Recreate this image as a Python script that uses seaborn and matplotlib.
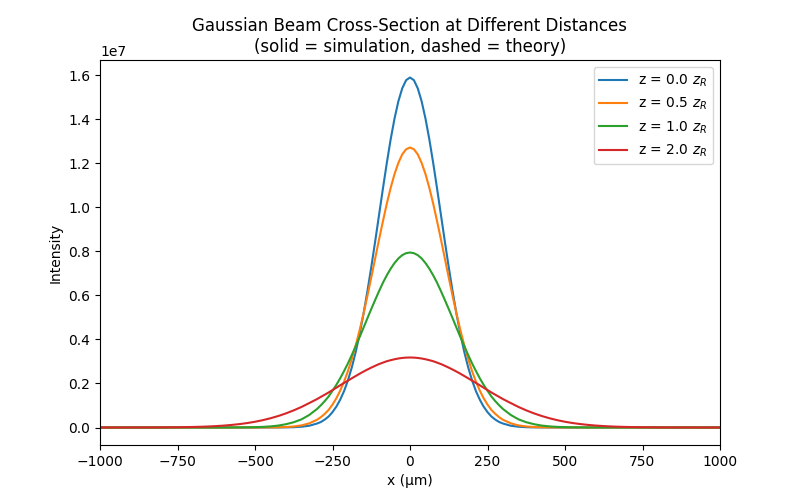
import numpy as np
import pandas as pd
import matplotlib
matplotlib.use("Agg")
import matplotlib.pyplot as plt
import seaborn as sns

# transverse position (um)
x_um = [-1000, -975, -950, -925, -900, -875, -850, -825, -800, -775, -750, -725,
        -700, -675, -650, -625, -600, -575, -550, -525, -500, -475, -450, -425,
        -400, -375, -350, -325,
        -300, -287.5, -275, -262.5, -250, -237.5, -225, -212.5, -200, -187.5, -175, -162.5,
        -150, -137.5, -125, -112.5, -100, -87.5, -75, -62.5, -50, -37.5, -25, -12.5,
        0, 12.5, 25, 37.5, 50, 62.5, 75, 87.5, 100, 112.5, 125, 137.5, 150,
        162.5, 175, 187.5, 200, 212.5, 225, 237.5, 250, 262.5, 275, 287.5, 300,
        325, 350, 375, 400, 425, 450, 475, 500,
        525, 550, 575, 600, 625, 650, 675, 700, 725, 750, 775, 800, 825, 850,
        875, 900, 925, 950, 975, 1000]

# intensity, in units of 1e7
i_z00 = [0, 0, 0, 0, 0, 0, 0, 0, 0, 0, 0, 0,
         0, 0, 0, 0, 0, 0, 0, 0, 0, 0, 0.0001, 0.0002,
         0.0005, 0.0014, 0.0035, 0.008,
         0.018, 0.025, 0.036, 0.050, 0.070, 0.095, 0.127, 0.166, 0.215, 0.274, 0.344, 0.425,
         0.516, 0.618, 0.728, 0.844, 0.964, 1.084, 1.200, 1.308, 1.403, 1.482, 1.541, 1.578,
         1.590, 1.578, 1.541, 1.482, 1.403, 1.308, 1.200, 1.084, 0.964, 0.844, 0.728, 0.618, 0.516,
         0.425, 0.344, 0.274, 0.215, 0.166, 0.127, 0.095, 0.070, 0.050, 0.036, 0.025, 0.018,
         0.008, 0.0035, 0.0014, 0.0005, 0.0002, 0.0001, 0, 0,
         0, 0, 0, 0, 0, 0, 0, 0, 0, 0, 0, 0, 0, 0,
         0, 0, 0, 0, 0, 0]
i_z05 = [0, 0, 0, 0, 0, 0, 0, 0, 0, 0, 0, 0,
         0, 0, 0, 0, 0, 0, 0, 0, 0.0001, 0.0002, 0.0004, 0.0009,
         0.0021, 0.0046, 0.0095, 0.019,
         0.035, 0.047, 0.062, 0.080, 0.104, 0.133, 0.168, 0.209, 0.257, 0.312, 0.374, 0.442,
         0.517, 0.597, 0.681, 0.767, 0.853, 0.936, 1.016, 1.088, 1.151, 1.202, 1.241, 1.264,
         1.272, 1.264, 1.241, 1.202, 1.151, 1.088, 1.016, 0.936, 0.853, 0.767, 0.681, 0.597, 0.517,
         0.442, 0.374, 0.312, 0.257, 0.209, 0.168, 0.133, 0.104, 0.080, 0.062, 0.047, 0.035,
         0.019, 0.0095, 0.0046, 0.0021, 0.0009, 0.0004, 0.0002, 0.0001,
         0, 0, 0, 0, 0, 0, 0, 0, 0, 0, 0, 0, 0, 0,
         0, 0, 0, 0, 0, 0]
i_z10 = [0, 0, 0, 0, 0, 0, 0, 0, 0, 0, 0, 0,
         0, 0, 0, 0, 0.0001, 0.0002, 0.0004, 0.0008, 0.0015, 0.0028, 0.0050, 0.0087,
         0.015, 0.024, 0.037, 0.057,
         0.084, 0.101, 0.120, 0.141, 0.167, 0.194, 0.224, 0.257, 0.292, 0.330, 0.370, 0.411,
         0.453, 0.496, 0.538, 0.579, 0.619, 0.657, 0.691, 0.721, 0.747, 0.768, 0.783, 0.792,
         0.795, 0.792, 0.783, 0.768, 0.747, 0.721, 0.691, 0.657, 0.619, 0.579, 0.538, 0.496, 0.453,
         0.411, 0.370, 0.330, 0.292, 0.257, 0.224, 0.194, 0.167, 0.141, 0.120, 0.101, 0.084,
         0.057, 0.037, 0.024, 0.015, 0.0087, 0.0050, 0.0028, 0.0015,
         0.0008, 0.0004, 0.0002, 0.0001, 0, 0, 0, 0, 0, 0, 0, 0, 0, 0,
         0, 0, 0, 0, 0, 0]
i_z20 = [0, 0, 0, 0, 0.0001, 0.0001, 0.0002, 0.0003, 0.0005, 0.0008, 0.0011, 0.0017,
         0.0024, 0.0033, 0.0046, 0.0064, 0.0087, 0.0117, 0.0155, 0.0202, 0.0261, 0.0333, 0.0420, 0.0522,
         0.0642, 0.0779, 0.0934, 0.111,
         0.129, 0.1392, 0.149, 0.1593, 0.170, 0.1809, 0.192, 0.2025, 0.213, 0.2237, 0.234, 0.2442,
         0.254, 0.2632, 0.272, 0.2802, 0.288, 0.2946, 0.301, 0.3058, 0.310, 0.3135, 0.316, 0.3175,
         0.318, 0.3175, 0.316, 0.3135, 0.310, 0.3058, 0.301, 0.2946, 0.288, 0.2802, 0.272, 0.2632, 0.254,
         0.2442, 0.234, 0.2237, 0.213, 0.2025, 0.192, 0.1809, 0.170, 0.1593, 0.149, 0.1392, 0.129,
         0.111, 0.0934, 0.0779, 0.0642, 0.0522, 0.0420, 0.0333, 0.0261,
         0.0202, 0.0155, 0.0117, 0.0087, 0.0064, 0.0046, 0.0033, 0.0024, 0.0017, 0.0011, 0.0008, 0.0005, 0.0003, 0.0002,
         0.0001, 0.0001, 0, 0, 0, 0]

labels = ["z = 0.0 $z_R$", "z = 0.5 $z_R$", "z = 1.0 $z_R$", "z = 2.0 $z_R$"]
series = [i_z00, i_z05, i_z10, i_z20]
colors = sns.color_palette("tab10", 4)

fig, ax = plt.subplots(figsize=(8, 5), dpi=100)

for label, vals, c in zip(labels, series, colors):
    df = pd.DataFrame({"x": x_um, "I": np.array(vals) * 1e7})
    sns.lineplot(data=df, x="x", y="I", color=c, label=label, linewidth=1.5, ax=ax)

ax.set_xlim(-1000, 1000)
ax.set_xlabel("x (µm)")
ax.set_ylabel("Intensity")
ax.set_title("Gaussian Beam Cross-Section at Different Distances\n(solid = simulation, dashed = theory)")
ax.legend(loc="upper right")

plt.savefig("out.png", dpi=100)
